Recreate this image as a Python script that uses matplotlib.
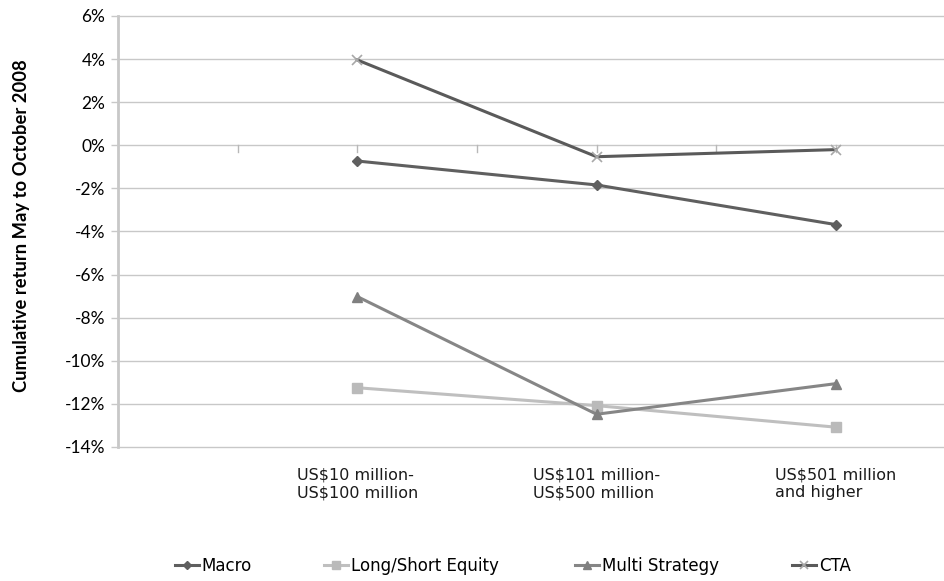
import matplotlib
matplotlib.use("Agg")
import matplotlib.pyplot as plt
from matplotlib.ticker import FuncFormatter

categories = ["US$10 million-\nUS$100 million", "US$101 million-\nUS$500 million", "US$501 million\nand higher"]
macro = [-0.73, -1.84, -3.68]
long_short = [-11.25, -12.08, -13.08]
multi_strategy = [-7.02, -12.48, -11.06]
cta = [3.96, -0.53, -0.2]
y_ticks = [6, 4, 2, 0, -2, -4, -6, -8, -10, -12, -14]

fig = plt.figure(figsize=(9.45, 5.81), dpi=100)
ax = fig.add_axes([118/945, 1-447/581, 1-118/945, (447-16)/581])

x = [1, 2, 3]
ax.set_xlim(0, 3.456)
ax.set_ylim(-14, 6)

for yv in y_ticks:
    ax.axhline(yv, color="#c8c8c8", lw=1.0, zorder=0, clip_on=False)

# tick marks on the zero line
for xt in [0.5, 1.0, 1.5, 2.0, 2.5, 3.0]:
    ax.plot([xt, xt], [0, -0.33], color="#b8b8b8", lw=1.0, zorder=1, clip_on=False)

ax.plot(x, macro, color="#5f5f5f", lw=2.2, marker="D", ms=5, mfc="#5f5f5f", mec="#5f5f5f", label="Macro", zorder=3)
ax.plot(x, long_short, color="#bfbfbf", lw=2.2, marker="s", ms=7, mfc="#bababa", mec="#bababa", label="Long/Short Equity", zorder=3)
ax.plot(x, multi_strategy, color="#868686", lw=2.2, marker="^", ms=7, mfc="#808080", mec="#808080", label="Multi Strategy", zorder=3)
ax.plot(x, cta, color="#5a5a5a", lw=2.2, marker="x", ms=7, mew=1.2, mfc="#a8a8a8", mec="#a8a8a8", label="CTA", zorder=3)

for sp in ["top", "right", "bottom"]:
    ax.spines[sp].set_visible(False)
ax.spines["left"].set_color("#c8c8c8")
ax.spines["left"].set_linewidth(2)

ax.set_yticks(y_ticks)
ax.yaxis.set_major_formatter(FuncFormatter(lambda v, p: f"{int(round(v))}%"))
ax.tick_params(axis="y", length=5, width=1, color="#c8c8c8", labelsize=12.5, pad=4)
for lab in ax.get_yticklabels():
    lab.set_family("Lato")
ax.set_xticks([])

for xi, cat in zip(x, categories):
    ax.text(xi, -14.95, cat, ha="center", va="top", multialignment="left",
            fontsize=11.5, family="DejaVu Sans", color="#1a1a1a", linespacing=1.25)

fig.text(22/945, 1-226/581, "Cumulative return May to October 2008", rotation=90,
         ha="center", va="center", fontsize=13.2, fontweight="bold", family="Lato")

handles, labels = ax.get_legend_handles_labels()
legend_x = [175, 324, 575, 792]
for h, l, lx in zip(handles, labels, legend_x):
    lg = fig.legend([h], [l], loc="center left", bbox_to_anchor=(lx/945, 1-566/581),
                    frameon=False, handlelength=1.45, handletextpad=0.15, borderpad=0,
                    borderaxespad=0, markerscale=0.8,
                    prop={"family": "DejaVu Sans", "size": 12})

fig.savefig("out.png", dpi=100)
